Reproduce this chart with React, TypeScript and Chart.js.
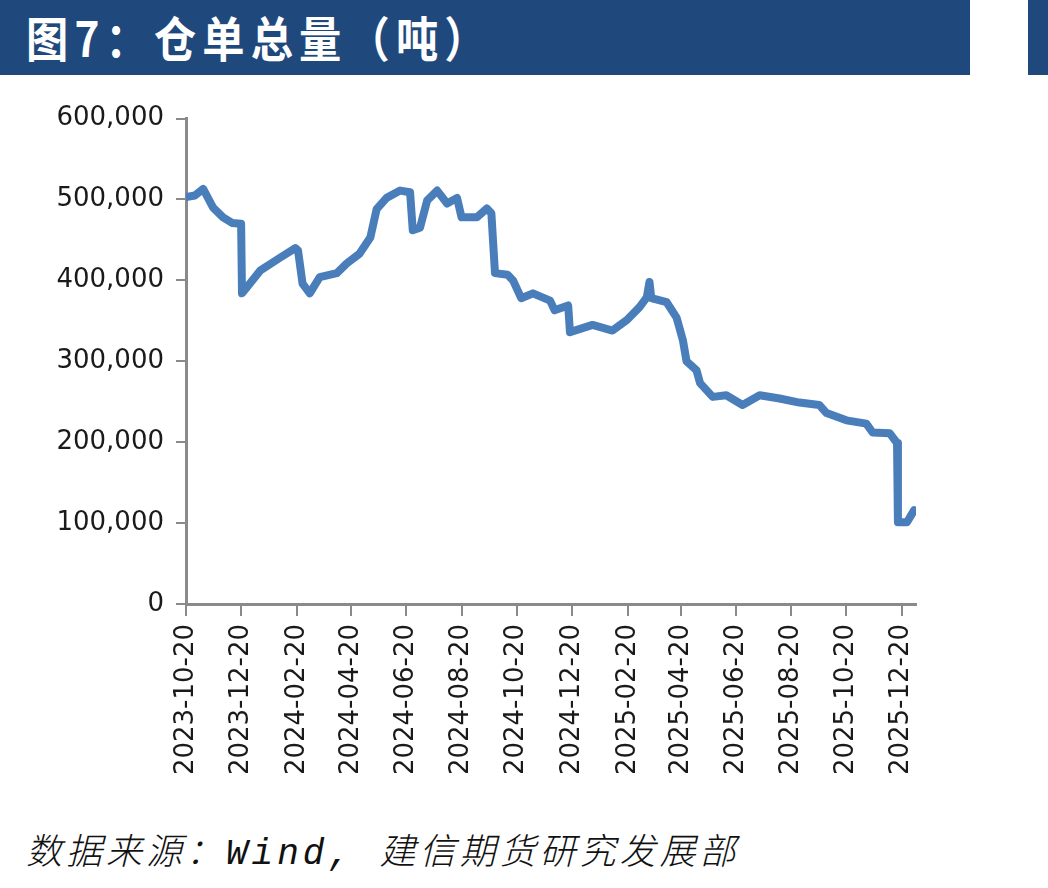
import React, { useEffect, useRef } from "react";
import { Chart, registerables } from "chart.js";

Chart.register(...registerables);

const START_DATE = "2023-10-20";
const END_DATE = "2026-01-05";

const tickDates = [
  "2023-10-20", "2023-12-20", "2024-02-20", "2024-04-20", "2024-06-20", "2024-08-20", "2024-10-20",
  "2024-12-20", "2025-02-20", "2025-04-20", "2025-06-20", "2025-08-20", "2025-10-20", "2025-12-20",
];

const yTicks = [0, 100000, 200000, 300000, 400000, 500000, 600000];

const dates = [
  "2023-10-20", "2023-10-30", "2023-11-08", "2023-11-19", "2023-11-30", "2023-12-10", "2023-12-20",
  "2023-12-21", "2023-12-26", "2024-01-10", "2024-02-01", "2024-02-18", "2024-02-21", "2024-02-26",
  "2024-03-05", "2024-03-16", "2024-04-04", "2024-04-15", "2024-04-29", "2024-05-11", "2024-05-18",
  "2024-05-29", "2024-06-13", "2024-06-24", "2024-06-27", "2024-07-05", "2024-07-13", "2024-07-24",
  "2024-08-04", "2024-08-15", "2024-08-20", "2024-09-06", "2024-09-17", "2024-09-22", "2024-09-26",
  "2024-10-10", "2024-10-16", "2024-10-25", "2024-11-07", "2024-11-26", "2024-12-01", "2024-12-16",
  "2024-12-18", "2025-01-12", "2025-02-03", "2025-02-19", "2025-03-05", "2025-03-13", "2025-03-16",
  "2025-03-18", "2025-04-04", "2025-04-15", "2025-04-22", "2025-04-26", "2025-05-07", "2025-05-11",
  "2025-05-25", "2025-06-09", "2025-06-27", "2025-07-16", "2025-08-07", "2025-08-29", "2025-09-20",
  "2025-09-28", "2025-10-20", "2025-11-11", "2025-11-18", "2025-12-07", "2025-12-15", "2025-12-16",
  "2025-12-26", "2026-01-03",
];

const stock = [
  503000, 505000, 513000, 490000, 478000, 471000, 470000,
  384000, 391000, 412000, 428000, 440000, 437000, 396000,
  384000, 404000, 409000, 421000, 433000, 453000, 488000,
  502000, 511000, 509000, 462000, 465000, 499000, 511000,
  495000, 502000, 478000, 478000, 489000, 483000, 409000,
  407000, 400000, 378000, 384000, 375000, 363000, 369000,
  336000, 345000, 338000, 351000, 367000, 379000, 398000,
  378000, 373000, 354000, 326000, 300000, 289000, 273000,
  256000, 258000, 246000, 258000, 254000, 249000, 246000,
  236000, 227000, 223000, 212000, 211000, 199000, 101000,
  101000, 116000,
];

const DAY = 86400000;
const toDay = (s: string) => {
  const [y, m, d] = s.split("-").map(Number);
  const [y0, m0, d0] = START_DATE.split("-").map(Number);
  return Math.round((Date.UTC(y, m - 1, d) - Date.UTC(y0, m0 - 1, d0)) / DAY);
};

const fmt = (v: number) => v.toLocaleString("en-US");

export default function App() {
  const ref = useRef<HTMLCanvasElement | null>(null);

  useEffect(() => {
    if (!ref.current) return;
    const axisColor = "#8a8a8a";
    const font = { family: "'DejaVu Sans', Verdana, sans-serif", size: 26 };
    const chart = new Chart(ref.current, {
      type: "line",
      data: {
        datasets: [
          {
            data: dates.map((d, i) => ({ x: toDay(d), y: stock[i] })),
            borderColor: "#4A7EBB",
            borderWidth: 8,
            pointRadius: 0,
            tension: 0,
            borderJoinStyle: "round",
            borderCapStyle: "round",
            fill: false,
          },
        ],
      },
      options: {
        animation: false,
        responsive: false,
        maintainAspectRatio: false,
        layout: { padding: { top: 10, left: 0, right: 132, bottom: 0 } },
        plugins: { legend: { display: false }, tooltip: { enabled: false } },
        scales: {
          x: {
            type: "linear",
            min: 0,
            max: toDay(END_DATE),
            grid: { drawOnChartArea: false, drawTicks: true, tickLength: 12, color: axisColor, lineWidth: 2 },
            border: { color: axisColor, width: 3 },
            afterBuildTicks: (scale: any) => {
              scale.ticks = tickDates.map((d) => ({ value: toDay(d) }));
            },
            afterFit: (scale: any) => {
              scale.height = 196;
            },
            ticks: {
              autoSkip: false,
              maxRotation: 90,
              minRotation: 90,
              padding: 8,
              color: "#1a1a1a",
              font,
              callback: (_v: any, i: number) => tickDates[i],
            },
          },
          y: {
            min: 0,
            max: 600000,
            afterBuildTicks: (scale: any) => {
              scale.ticks = yTicks.map((v) => ({ value: v }));
            },
            afterFit: (scale: any) => {
              scale.width = 186;
            },
            grid: { drawOnChartArea: false, drawTicks: true, tickLength: 10, color: axisColor, lineWidth: 2 },
            border: { color: axisColor, width: 3 },
            ticks: {
              padding: 12,
              color: "#1a1a1a",
              font,
              callback: (v: any) => fmt(Number(v)),
            },
          },
        },
      },
    } as any);
    return () => chart.destroy();
  }, []);

  return (
    <div style={{ position: "absolute", left: 0, top: 0, width: 1048, height: 888, background: "#fff", overflow: "hidden" }}>
      <div style={{ position: "absolute", left: 0, top: 0, width: 970, height: 75, background: "#1F497D" }} />
      <div style={{ position: "absolute", left: 1028, top: 0, width: 20, height: 75, background: "#1F497D" }} />
      <div
        style={{
          position: "absolute",
          left: 26,
          top: 4,
          height: 64,
          lineHeight: "64px",
          color: "#fff",
          fontFamily: "'Noto Sans CJK SC', sans-serif",
          fontWeight: 700,
          fontSize: 48,
          letterSpacing: 7,
          whiteSpace: "nowrap",
          transform: "scaleX(0.88)",
          transformOrigin: "left center",
        }}
      >
        图7：仓单总量（吨）
      </div>
      <canvas ref={ref} width={1048} height={709} style={{ position: "absolute", left: 0, top: 91, width: 1048, height: 709 }} />
      <div
        style={{
          position: "absolute",
          left: 26,
          top: 830,
          height: 50,
          lineHeight: "50px",
          color: "#111",
          fontFamily: "'Liberation Mono', 'Noto Sans CJK SC', sans-serif",
          fontStyle: "italic",
          fontWeight: 300,
          fontSize: 36,
          letterSpacing: 4,
          whiteSpace: "nowrap",
        }}
      >
        数据来源：Wind, 建信期货研究发展部
      </div>
    </div>
  );
}
